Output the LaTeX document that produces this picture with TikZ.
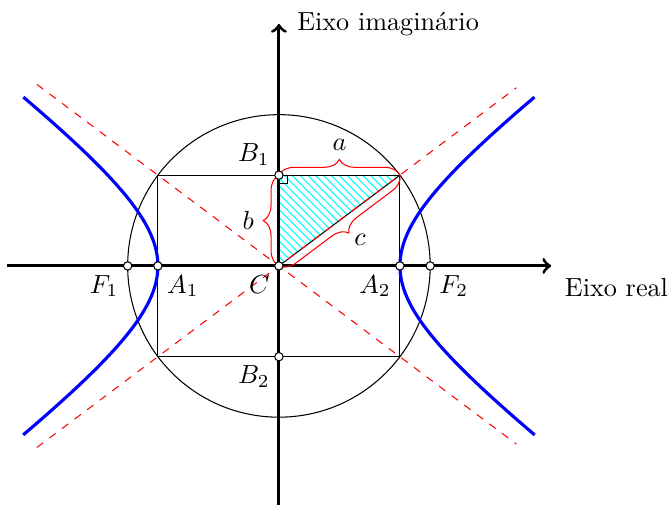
\documentclass[tikz,border=0pt]{standalone}
\usetikzlibrary{decorations.pathreplacing,patterns}
\begin{document}
\begin{tikzpicture}[x=0.406cm,y=0.406cm,
  dot/.style={circle,draw=black,fill=white,inner sep=0pt,minimum size=3.2pt,line width=0.4pt},
  axisline/.style={very thick,->},
  br/.style={red,decorate,decoration={brace,amplitude=6pt}},
  asym/.style={red,dashed,thin},
  hyp/.style={blue,very thick},
  thinline/.style={thin,black}]
\useasboundingbox (-9.22,-7.87) rectangle (12.96,8.79);
% key points
\coordinate (Cc) at (0,0);
\coordinate (A1c) at (-4,0);
\coordinate (A2c) at (4,0);
\coordinate (B1c) at (0,3);
\coordinate (B2c) at (0,-3);
\coordinate (F1c) at (-5,0);
\coordinate (F2c) at (5,0);
\coordinate (P1) at (4,3);
\coordinate (P2) at (-4,3);
\coordinate (P3) at (-4,-3);
\coordinate (P4) at (4,-3);
\coordinate (U1) at (-8,6);
\coordinate (U2) at (7.85,5.89);
\coordinate (U3) at (-8,-6);
\coordinate (U4) at (7.85,-5.89);
\coordinate (XL) at (-9,0);
\coordinate (XR) at (9,0);
\coordinate (YB) at (0,-8);
\coordinate (YT) at (0,8);
% hatched triangle
\fill[pattern=north west lines,pattern color=cyan] (Cc) -- (B1c) -- (P1) -- cycle;
\draw[thinline] (Cc) -- (P1);
% right angle mark
\draw[thinline] (0.27,3) -- (0.27,2.73) -- (0,2.73);
% rectangle
\draw[thinline] (P1) -- (P2) -- (P3) -- (P4) -- cycle;
% circle
\draw[thinline] (Cc) circle[radius=5];
% asymptotes
\draw[asym] (U1) -- (U4);
\draw[asym] (U3) -- (U2);
% hyperbola
\draw[hyp,domain=-1.38:1.38,samples=80,variable=\t] plot ({4*cosh(\t)},{3*sinh(\t)});
\draw[hyp,domain=-1.38:1.38,samples=80,variable=\t] plot ({-4*cosh(\t)},{3*sinh(\t)});
% axes
\draw[axisline] (XL) -- (XR);
\draw[axisline] (YB) -- (YT);
\node[anchor=north west] (lreal) at (9.15,-0.1) {Eixo real};
\node[anchor=west] (limag) at (0.3,8) {Eixo imagin\'ario};
% braces
\draw[br] (B1c) -- (P1) node[midway,above=6pt,black] (la) {$a$};
\draw[br] (Cc) -- (B1c) node[midway,left=6pt,black] (lb) {$b$};
\draw[br] (P1) -- (Cc) node[midway,xshift=7.9pt,yshift=-7.4pt,black] (lc) {$c$};
% dots
\node[dot] (C) at (Cc) {};
\node[dot] (A1) at (A1c) {};
\node[dot] (A2) at (A2c) {};
\node[dot] (B1) at (B1c) {};
\node[dot] (B2) at (B2c) {};
\node[dot] (F1) at (F1c) {};
\node[dot] (F2) at (F2c) {};
% labels
\node[below left] (lC) at (Cc) {$C$};
\node[below right] (lA1) at (A1c) {$A_1$};
\node[below left] (lA2) at (A2c) {$A_2$};
\node[above left] (lB1) at (B1c) {$B_1$};
\node[below left] (lB2) at (B2c) {$B_2$};
\node[below left] (lF1) at (F1c) {$F_1$};
\node[below right] (lF2) at (F2c) {$F_2$};
\end{tikzpicture}
\end{document}
